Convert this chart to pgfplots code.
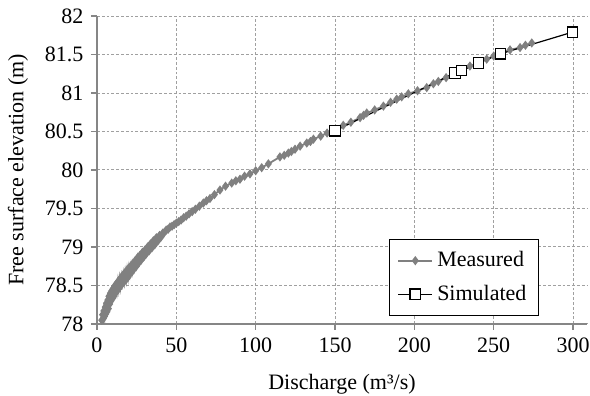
\documentclass[11pt,border=0pt]{standalone}
\usepackage{pgfplots}
\pgfplotsset{compat=1.18}
\usepackage{fontspec}
\setmainfont{Liberation Serif}
\definecolor{axgray}{HTML}{868686}
\definecolor{gridgray}{HTML}{A0A0A0}
\definecolor{meas}{HTML}{808080}
\begin{document}
\begin{tikzpicture}
\useasboundingbox (-48.5pt,-36pt) rectangle (246.5pt,162pt);
\begin{axis}[
  scale only axis,
  width=245pt, height=154pt,
  xmin=0, xmax=308.8, ymin=78, ymax=82,
  axis x line*=bottom, axis y line*=left,
  axis line style={axgray, line width=1pt, -},
  xtick={0,50,...,300},
  ytick={78,78.5,...,82},
  yticklabels={78,78.5,79,79.5,80,80.5,81,81.5,82},
  tick align=outside,
  major tick length=3pt,
  tick style={axgray, line width=0.6pt},
  grid=major,
  major grid style={gridgray, line width=0.5pt, dash pattern=on 1.4pt off 1pt},
  /pgf/number format/assume math mode=true,
  tick label style={font=\fontsize{11}{13}\selectfont},
  xlabel={Discharge (m³/s)},
  ylabel={Free surface elevation (m)},
  label style={font=\fontsize{11}{13}\selectfont},
  xlabel style={at={(axis description cs:0.5,0)}, anchor=base, yshift=-33pt},
  ylabel style={at={(axis description cs:-0.1612,0.5)}, anchor=center},
  legend style={at={(0.902,0.026)}, anchor=south east, draw=black, line width=0.5pt,
    font=\fontsize{11}{13}\selectfont, row sep=3.5pt, inner xsep=4pt, inner ysep=4pt},
  legend cell align=left,
]
\addplot[meas, line width=0.9pt, mark=diamond*, mark size=1.6pt, mark options={meas}] coordinates {
(3.0,78.05)(3.5,78.12)(4.0,78.07)(4.3,78.17)(4.8,78.10)(5.2,78.22)(5.5,78.13)(6.0,78.27)
(6.3,78.16)(6.8,78.31)(7.2,78.20)(7.5,78.36)(8.0,78.26)(8.4,78.40)(8.8,78.30)(9.3,78.43)
(9.7,78.33)(10.2,78.46)(10.6,78.36)(11.1,78.49)(11.6,78.40)(12.1,78.52)(12.6,78.43)(13.2,78.55)
(13.7,78.46)(14.3,78.58)(14.8,78.49)(15.4,78.61)(16.0,78.53)(16.6,78.64)(17.2,78.55)(17.8,78.67)
(18.4,78.58)(19.0,78.70)(19.6,78.61)(20.2,78.73)(20.8,78.65)(21.5,78.76)(22.1,78.68)(22.8,78.79)
(23.4,78.72)(24.1,78.82)(24.8,78.75)(25.5,78.86)(26.2,78.79)(27.0,78.89)(27.8,78.83)(28.6,78.93)
(29.4,78.87)(30.2,78.96)(31.0,78.91)(31.9,79.00)(32.8,78.95)(33.7,79.04)(34.6,78.99)(35.5,79.08)
(36.4,79.03)(37.4,79.12)(38.4,79.08)(39.4,79.15)(40.4,79.13)(41.4,79.18)(42.5,79.19)(43.6,79.22)
(44.8,79.23)(46.0,79.26)(47.3,79.27)(48.6,79.29)(50.0,79.31)(51.5,79.33)(53.0,79.35)(54.6,79.38)
(56.2,79.40)(58.0,79.43)(60.0,79.46)(62.0,79.49)(64.5,79.53)(67.0,79.57)(69.0,79.60)(71.2,79.63)
(74.0,79.68)(77.5,79.74)(81.0,79.79)(84.9,79.83)(87.5,79.86)(90.1,79.88)(93.0,79.92)(96.4,79.95)
(100.0,79.99)(103.8,80.03)(108.0,80.08)(115.3,80.17)(118.0,80.19)(120.6,80.22)(122.5,80.24)(124.8,80.27)
(128.0,80.31)(132.2,80.35)(134.5,80.37)(136.4,80.40)(141.0,80.44)(145.0,80.48)(150.0,80.52)(155.2,80.58)
(160.0,80.62)(165.8,80.68)(168.0,80.71)(170.0,80.74)(175.0,80.78)(180.5,80.83)(185.0,80.88)(188.9,80.92)
(192.0,80.95)(196.2,80.99)(202.0,81.03)(207.8,81.07)(212.0,81.12)(215.1,81.15)(220.0,81.20)(224.6,81.25)
(228.8,81.30)(235.0,81.35)(240.3,81.39)(245.6,81.44)(250.0,81.48)(255.0,81.52)(260.3,81.56)(266.6,81.59)
(270.0,81.62)(274.0,81.65)
};
\addlegendentry{Measured}
\addplot[black, line width=0.6pt, mark=square*, mark size=2.6pt, mark options={fill=white, draw=black, line width=0.6pt}] coordinates {
(150,80.51)(225.6,81.26)(229.8,81.29)(240.5,81.39)(254.4,81.51)(299.6,81.79)
};
\addlegendentry{Simulated}
\end{axis}
\end{tikzpicture}
\end{document}
